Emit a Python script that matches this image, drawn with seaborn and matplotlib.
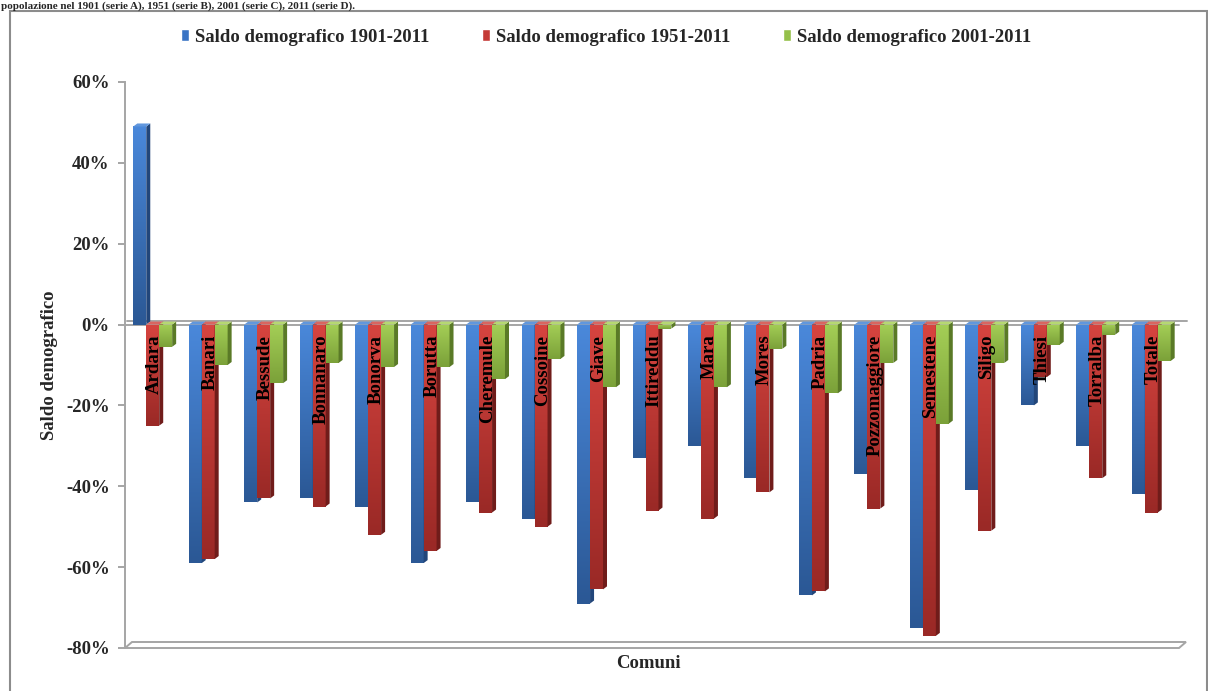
import numpy as np
import pandas as pd
import matplotlib
matplotlib.use("Agg")
import matplotlib.pyplot as plt
import seaborn as sns
from matplotlib.patches import Polygon, Rectangle, Patch
from matplotlib.colors import LinearSegmentedColormap, to_hex

# --- data (percent) -------------------------------------------------------
comuni = ["Ardara", "Banari", "Bessude", "Bonnanaro", "Bonorva", "Borutta",
          "Cheremule", "Cossoine", "Giave", "Ittireddu", "Mara", "Mores",
          "Padria", "Pozzomaggiore", "Semestene", "Siligo", "Thiesi",
          "Torralba", "Totale"]
saldo_1901_2011 = [49, -59, -44, -43, -45, -59, -44, -48, -69, -33, -30, -38,
                   -67, -37, -75, -41, -20, -30, -42]
saldo_1951_2011 = [-25, -58, -43, -45, -52, -56, -46.5, -50, -65.5, -46, -48,
                   -41.5, -66, -45.5, -77, -51, -13, -38, -46.5]
saldo_2001_2011 = [-5.5, -10, -14.5, -9.5, -10.5, -10.5, -13.5, -8.5, -15.5,
                   -1, -15.5, -6, -17, -9.5, -24.5, -9.5, -5, -2.5, -9]
serie = ["Saldo demografico 1901-2011", "Saldo demografico 1951-2011",
         "Saldo demografico 2001-2011"]
yticks = [-80, -60, -40, -20, 0, 20, 40, 60]
titolo = "popolazione nel 1901 (serie A), 1951 (serie B), 2001 (serie C), 2011 (serie D)."

df = pd.DataFrame({"Comune": comuni,
                   serie[0]: saldo_1901_2011,
                   serie[1]: saldo_1951_2011,
                   serie[2]: saldo_2001_2011})
df = df.melt(id_vars="Comune", var_name="Serie", value_name="Saldo")

# colours: (mid, light, dark, side, cap)
styles = [
    ("#3A74C4", "#4A88DA", "#2B5895", "#22467A", "#6197DD"),
    ("#C43A36", "#D6443F", "#9A2926", "#701C1A", "#D96560"),
    ("#95C04A", "#A4CE56", "#7BA139", "#5A7A27", "#B6D872"),
]

sns.set_theme(style="white")
plt.rcParams["font.family"] = ["Liberation Serif", "DejaVu Serif"]
plt.rcParams["font.weight"] = "bold"
FS = 13.5

W, H = 1208, 691
fig = plt.figure(figsize=(W / 100, H / 100), dpi=100)
ax = fig.add_axes([125 / W, 1 - 648 / H, 1054 / W, 566 / H])

sns.barplot(data=df, x="Comune", y="Saldo", hue="Serie", hue_order=serie,
            palette=[s[0] for s in styles], width=0.7, saturation=1,
            legend=False, ax=ax)

ax.set_xlim(-0.5, len(comuni) - 0.5)
ax.set_ylim(-80, 60)

px_x = 1054 / len(comuni)      # pixels per category
px_y = 566 / 140               # pixels per percent
dx, dy = 4 / px_x, 3 / px_y    # bar depth

mid_hex = [to_hex(s[0]) for s in styles]
grad = np.linspace(1, 0, 64).reshape(-1, 1)

for p in list(ax.patches):
    k = mid_hex.index(to_hex(p.get_facecolor()))
    mid, light, dark, side, cap = styles[k]
    z = 3 + k
    p.set_zorder(z)
    p.set_edgecolor("none")
    x0, w = p.get_x(), p.get_width()
    y0 = p.get_y()
    ylo, yhi = sorted([y0, y0 + p.get_height()])
    cmap = LinearSegmentedColormap.from_list("g", [light, dark])
    im = ax.imshow(grad, cmap=cmap, extent=(x0, x0 + w, ylo, yhi),
                   origin="lower", aspect="auto", zorder=z,
                   interpolation="bilinear")
    im.set_clip_path(p)
    ax.add_patch(Polygon([(x0 + w, ylo), (x0 + w + dx, ylo + dy),
                          (x0 + w + dx, yhi + dy), (x0 + w, yhi)],
                         closed=True, facecolor=side, edgecolor="none",
                         zorder=z))
    ax.add_patch(Polygon([(x0, yhi), (x0 + dx, yhi + dy),
                          (x0 + w + dx, yhi + dy), (x0 + w, yhi)],
                         closed=True, facecolor=cap, edgecolor="none",
                         zorder=z))

ax.set_xlim(-0.5, len(comuni) - 0.5)
ax.set_ylim(-80, 60)

# zero plane and floor
gray = "#A5A5A5"
x_l, x_r = -0.5, len(comuni) - 0.5
fdx, fdy = 7 / px_x, 6 / px_y
ax.plot([x_l, x_r], [0, 0], color=gray, lw=1.4, zorder=2, clip_on=False)
ax.plot([x_l + fdx * 0.3, x_r + 8 / px_x], [4 / px_y, 4 / px_y], color=gray,
        lw=1.4, zorder=2, clip_on=False)
ax.add_patch(Polygon([(x_l, -80), (x_r, -80), (x_r + fdx, -80 + fdy),
                      (x_l + fdx, -80 + fdy)], closed=True, facecolor="none",
                     edgecolor=gray, lw=1.4, zorder=2, clip_on=False))

# category labels written vertically on the bars
for i, c in enumerate(comuni):
    ax.text(i + 0.03, -2.5, c, rotation=90, ha="center", va="top",
            fontsize=FS, fontweight="bold", color="black", zorder=10)

for s in ["top", "right", "bottom"]:
    ax.spines[s].set_visible(False)
ax.spines["left"].set_color(gray)
ax.spines["left"].set_linewidth(1.4)
ax.set_xticks([])
ax.set_yticks(yticks)
ax.set_yticklabels([f"{v}%" for v in yticks], fontsize=FS, fontweight="bold")
ax.tick_params(axis="y", length=5, width=1.4, color=gray, pad=6,
               left=True)
ax.set_ylabel("Saldo demografico", fontsize=FS, fontweight="bold")
ax.yaxis.set_label_coords(-0.0636, 0.5)
ax.set_xlabel("Comuni", fontsize=FS, fontweight="bold")
ax.xaxis.set_label_coords(0.497, -0.012)

handles = [Patch(facecolor=s[0]) for s in styles]
fig.legend(handles, serie, loc="center", bbox_to_anchor=(606 / W, 1 - 37 / H),
           ncol=3, frameon=False, fontsize=FS, handlelength=0.45,
           handleheight=0.6, handletextpad=0.3, columnspacing=2.8)

# chart frame and heading strip
fig.add_artist(Rectangle((10 / W, -0.1), 1197 / W, 1 - 11 / H + 0.1,
                         transform=fig.transFigure, fill=False,
                         edgecolor="#8C8C8C", lw=1.5))
fig.text(1 / W, 1 - 8.5 / H, titolo, ha="left", va="baseline",
         fontsize=8, fontweight="bold")

fig.savefig("out.png", dpi=100)
